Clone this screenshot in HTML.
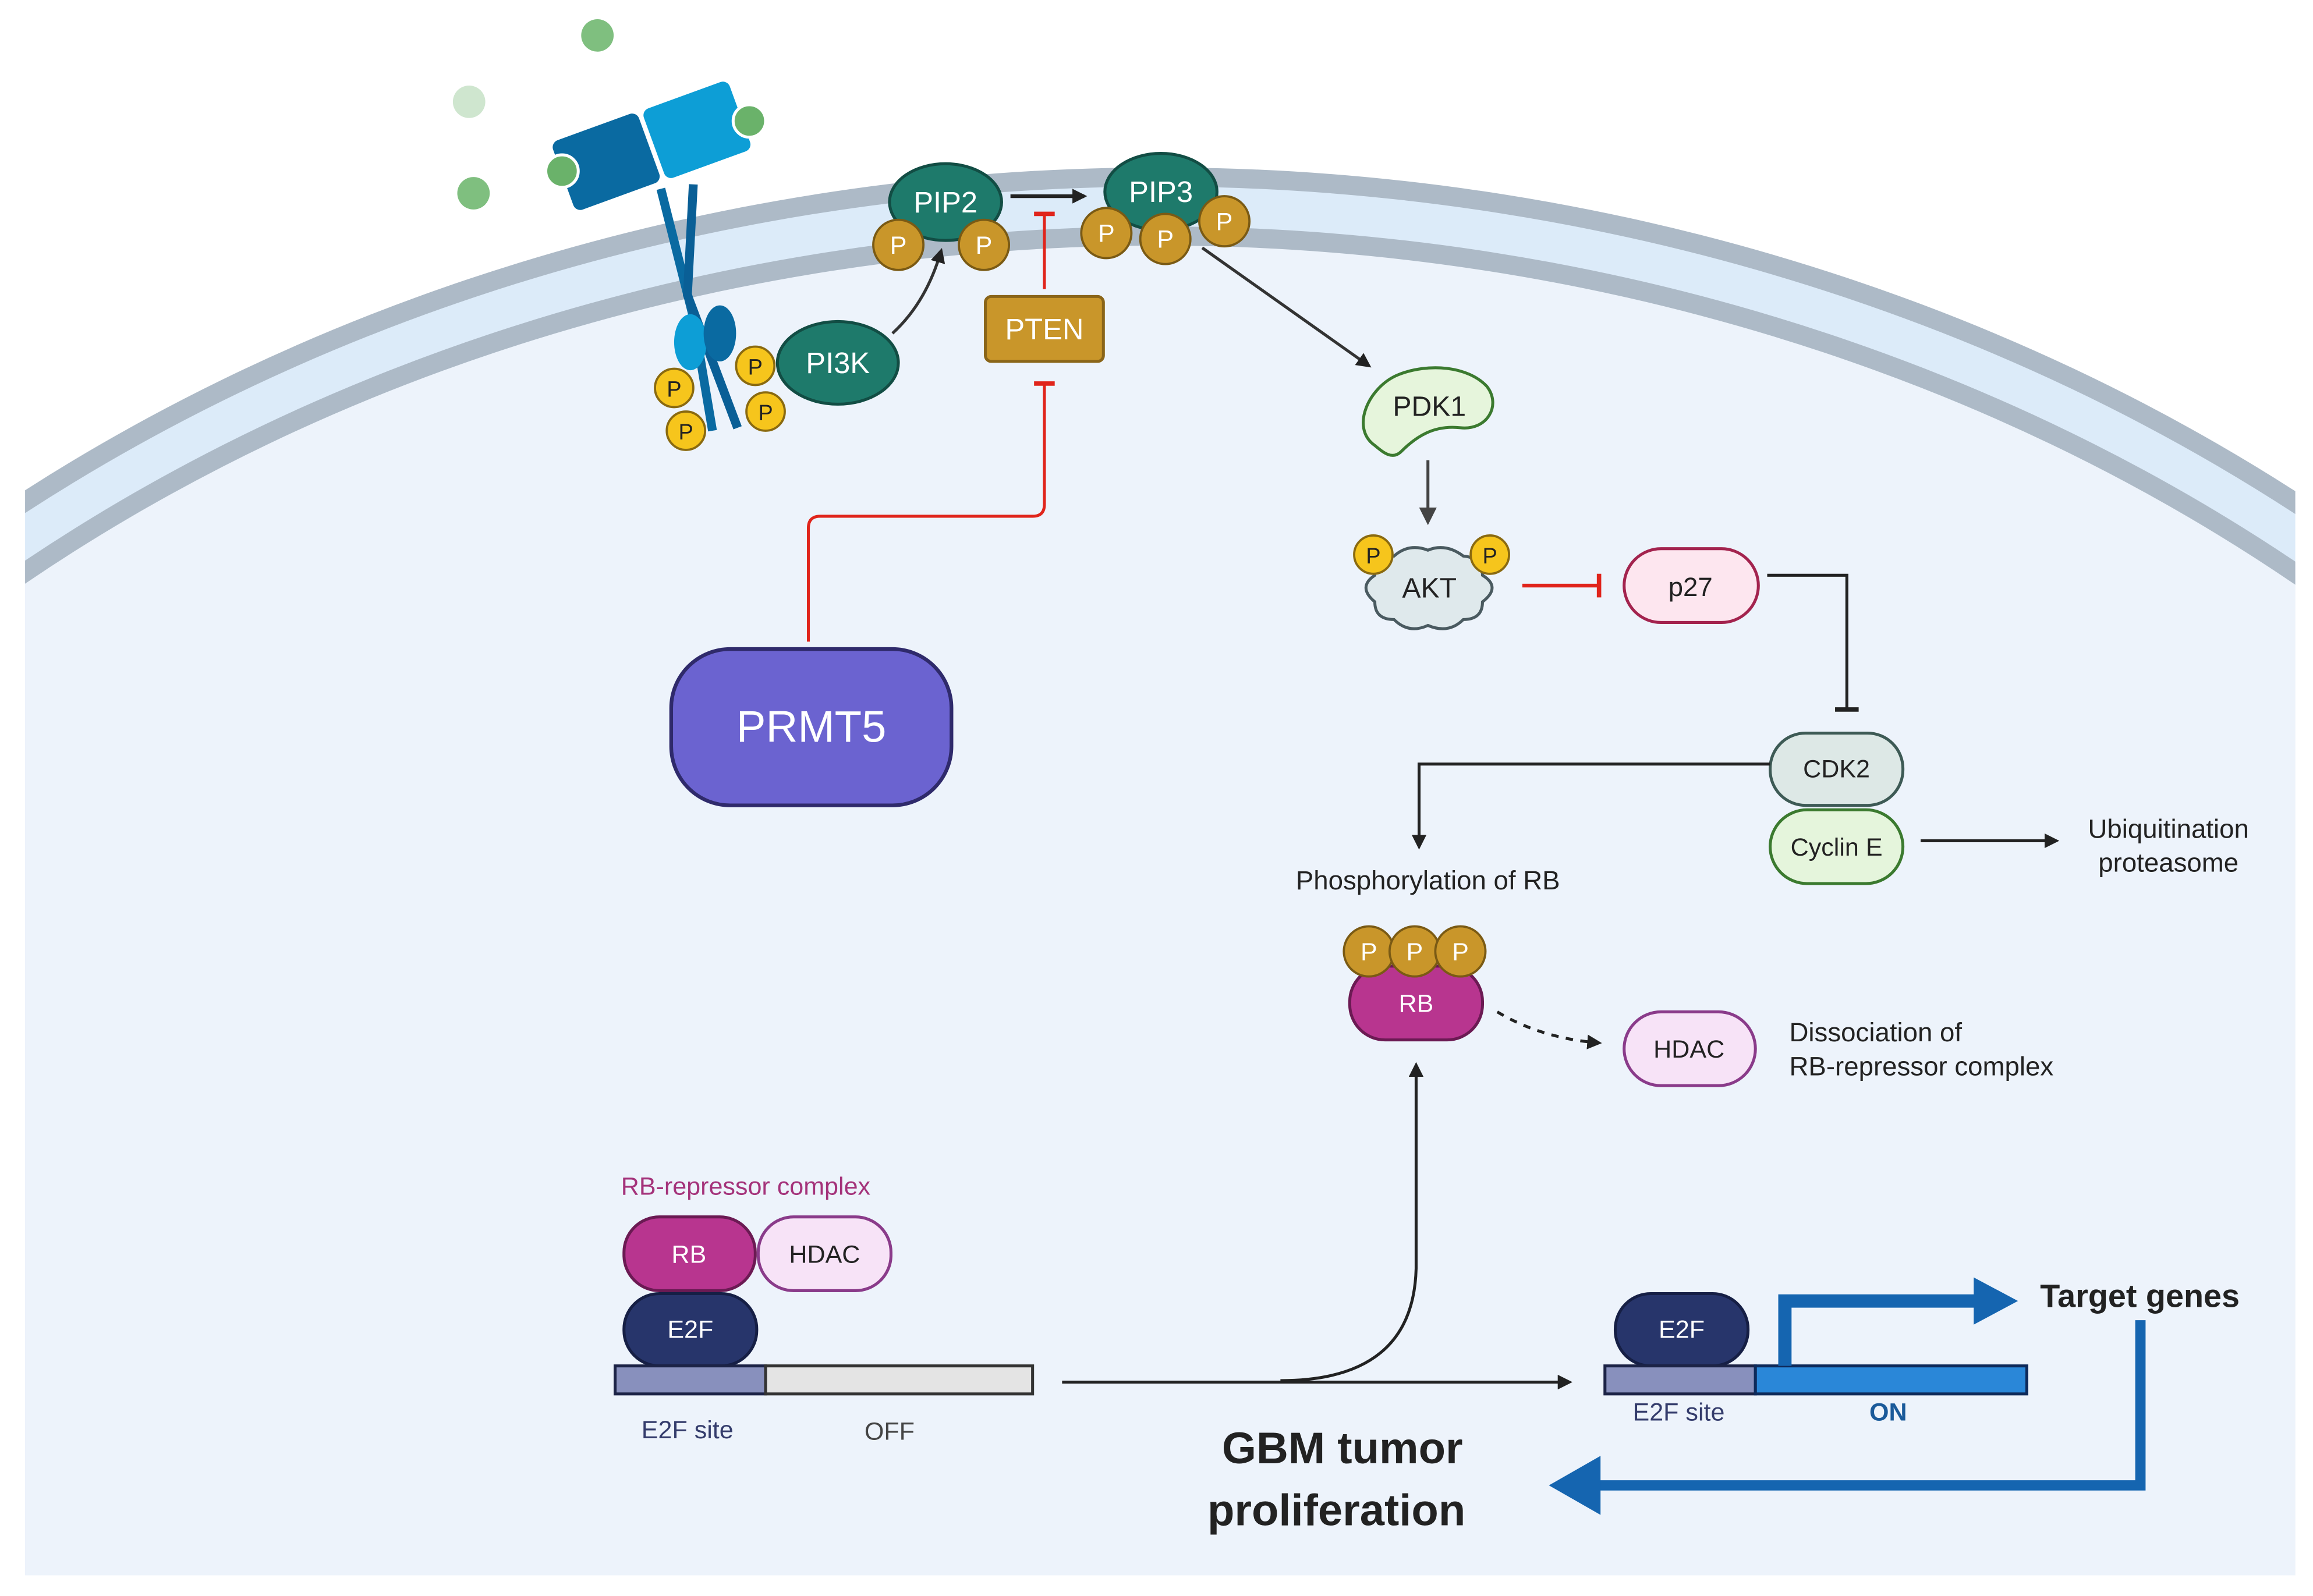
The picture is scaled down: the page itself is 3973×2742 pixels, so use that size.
<!DOCTYPE html>
<html><head><meta charset="utf-8"><style>
html,body{margin:0;padding:0;background:#fff;width:3973px;height:2742px;overflow:hidden}
svg{display:block}
text{font-family:"Liberation Sans",sans-serif}
</style></head><body>
<svg width="3973" height="2742" viewBox="0 0 1568 1082" preserveAspectRatio="none" xmlns="http://www.w3.org/2000/svg">
<defs>
<clipPath id="c"><rect x="17" y="0" width="1539" height="1068"/></clipPath>
<marker id="ab" markerWidth="10" markerHeight="10" refX="8" refY="5" orient="auto" markerUnits="userSpaceOnUse"><path d="M0,0 L10,5 L0,10z" fill="#222"/></marker>
<marker id="ag" markerWidth="12" markerHeight="12" refX="10" refY="6" orient="auto" markerUnits="userSpaceOnUse"><path d="M0,0 L12,6 L0,12z" fill="#444"/></marker>
</defs>
<rect width="1568" height="1082" fill="#fff"/>
<g clip-path="url(#c)">
<ellipse cx="786" cy="1200" rx="1271" ry="1080" fill="#dcebf9" stroke="#adbac7" stroke-width="13"/>
<ellipse cx="786" cy="1200" rx="1231" ry="1040" fill="#edf3fb" stroke="#adbac7" stroke-width="13"/>
</g>
<circle cx="405" cy="24" r="11" fill="#7fbf7f"/>
<circle cx="318" cy="69" r="11" fill="#cfe6cf"/>
<circle cx="321" cy="131" r="11" fill="#7fbf7f"/>
<path d="M448,128 L470,215 L483,292" fill="none" stroke="#0a6aa1" stroke-width="6"/>
<path d="M470,125 L466,200 L500,290" fill="none" stroke="#0a5f96" stroke-width="6"/>
<g transform="rotate(-20 410 110)"><rect x="380" y="85" width="62" height="50" rx="5" fill="#0a6aa1"/></g>
<g transform="rotate(-20 470 90)"><rect x="442" y="64" width="62" height="50" rx="5" fill="#0d9ed6"/></g>
<circle cx="381" cy="116" r="11" fill="#6ab26a" stroke="#fff" stroke-width="2"/>
<circle cx="508" cy="82" r="11" fill="#6ab26a" stroke="#fff" stroke-width="2"/>
<ellipse cx="468" cy="232" rx="11" ry="19" fill="#0d9ed6"/>
<ellipse cx="488" cy="226" rx="11" ry="19" fill="#0a6aa1"/>
<g fill="#f6c51c" stroke="#8a6a10" stroke-width="1.5">
<circle cx="457" cy="263" r="13"/><circle cx="465" cy="292" r="13"/><circle cx="512" cy="248" r="13"/><circle cx="519" cy="279" r="13"/></g>
<g font-size="15" text-anchor="middle" fill="#222"><text x="457" y="269">P</text><text x="465" y="298">P</text><text x="512" y="254">P</text><text x="519" y="285">P</text></g>
<ellipse cx="568" cy="246" rx="41" ry="28" fill="#1e7a6b" stroke="#124d44" stroke-width="2"/>
<text x="568" y="253" font-size="20" fill="#fff" text-anchor="middle">PI3K</text>
<path d="M605,226 Q628,205 638,170" fill="none" stroke="#333" stroke-width="2" marker-end="url(#ab)"/>
<ellipse cx="641" cy="137" rx="38" ry="26" fill="#1e7a6b" stroke="#124d44" stroke-width="2"/>
<text x="641" y="144" font-size="20" fill="#fff" text-anchor="middle">PIP2</text>
<g fill="#c9962a" stroke="#7a5a14" stroke-width="1.5"><circle cx="609" cy="166" r="17"/><circle cx="667" cy="166" r="17"/></g>
<g font-size="17" fill="#fff" text-anchor="middle"><text x="609" y="172">P</text><text x="667" y="172">P</text></g>
<line x1="685" y1="133" x2="735" y2="133" stroke="#222" stroke-width="2.5" marker-end="url(#ab)"/>
<ellipse cx="787" cy="130" rx="38" ry="26" fill="#1e7a6b" stroke="#124d44" stroke-width="2"/>
<text x="787" y="137" font-size="20" fill="#fff" text-anchor="middle">PIP3</text>
<g fill="#c9962a" stroke="#7a5a14" stroke-width="1.5"><circle cx="750" cy="158" r="17"/><circle cx="790" cy="162" r="17"/><circle cx="830" cy="150" r="17"/></g>
<g font-size="17" fill="#fff" text-anchor="middle"><text x="750" y="164">P</text><text x="790" y="168">P</text><text x="830" y="156">P</text></g>
<line x1="708" y1="196" x2="708" y2="145" stroke="#e0241b" stroke-width="2"/>
<line x1="701" y1="145" x2="715" y2="145" stroke="#e0241b" stroke-width="3"/>
<rect x="668" y="201" width="80" height="44" rx="4" fill="#c9962a" stroke="#8a6519" stroke-width="2"/>
<text x="708" y="230" font-size="20" fill="#fff" text-anchor="middle">PTEN</text>
<path d="M548,435 L548,358 Q548,350 556,350 L700,350 Q708,350 708,342 L708,260" fill="none" stroke="#e0241b" stroke-width="2"/>
<line x1="701" y1="260" x2="715" y2="260" stroke="#e0241b" stroke-width="3"/>
<rect x="455" y="440" width="190" height="106" rx="40" fill="#6b63d0" stroke="#2f2a6b" stroke-width="2.5"/>
<text x="550" y="503" font-size="30" fill="#fff" text-anchor="middle">PRMT5</text>
<line x1="815" y1="168" x2="928" y2="248" stroke="#333" stroke-width="2" marker-end="url(#ab)"/>
<path d="M932,302 C915,290 928,262 948,254 C968,246 995,248 1008,262 C1018,275 1008,292 990,290 C972,288 960,296 950,306 C944,312 938,307 932,302z" fill="#e6f5dc" stroke="#3b7a2f" stroke-width="2"/>
<text x="969" y="282" font-size="19" fill="#222" text-anchor="middle">PDK1</text>
<line x1="968" y1="312" x2="968" y2="354" stroke="#444" stroke-width="2" marker-end="url(#ag)"/>
<path d="M945,377 Q955,368 968,373 Q980,368 992,377 Q1005,378 1005,390 Q1018,398 1005,408 Q1005,420 992,420 Q982,430 968,424 Q955,430 945,420 Q932,420 932,408 Q920,398 932,390 Q932,378 945,377z" fill="#dfe9ec" stroke="#4a5a60" stroke-width="2"/>
<text x="969" y="405" font-size="19" fill="#222" text-anchor="middle">AKT</text>
<g fill="#f6c51c" stroke="#8a6a10" stroke-width="1.5"><circle cx="931" cy="376" r="13"/><circle cx="1010" cy="376" r="13"/></g>
<g font-size="15" fill="#222" text-anchor="middle"><text x="931" y="382">P</text><text x="1010" y="382">P</text></g>
<line x1="1032" y1="397" x2="1084" y2="397" stroke="#e0241b" stroke-width="2.5"/>
<line x1="1084" y1="389" x2="1084" y2="405" stroke="#e0241b" stroke-width="3"/>
<rect x="1101" y="372" width="91" height="50" rx="25" fill="#fde6ef" stroke="#a3234e" stroke-width="2"/>
<text x="1146" y="404" font-size="18" fill="#222" text-anchor="middle">p27</text>
<path d="M1198,390 L1252,390 L1252,480" fill="none" stroke="#222" stroke-width="2"/>
<line x1="1244" y1="481" x2="1260" y2="481" stroke="#222" stroke-width="3"/>
<rect x="1200" y="497" width="90" height="49" rx="24" fill="#dde8e6" stroke="#3d5a55" stroke-width="2"/>
<text x="1245" y="527" font-size="17" fill="#222" text-anchor="middle">CDK2</text>
<rect x="1200" y="549" width="90" height="50" rx="25" fill="#e5f5dc" stroke="#3b7a2f" stroke-width="2"/>
<text x="1245" y="580" font-size="17" fill="#222" text-anchor="middle">Cyclin E</text>
<path d="M1200,518 L962,518 L962,574" fill="none" stroke="#222" stroke-width="2" marker-end="url(#ab)"/>
<text x="968" y="603" font-size="18" fill="#222" text-anchor="middle">Phosphorylation of RB</text>
<line x1="1302" y1="570" x2="1394" y2="570" stroke="#222" stroke-width="2" marker-end="url(#ab)"/>
<text x="1470" y="568" font-size="18" fill="#222" text-anchor="middle">Ubiquitination</text>
<text x="1470" y="591" font-size="18" fill="#222" text-anchor="middle">proteasome</text>
<rect x="915" y="655" width="90" height="50" rx="24" fill="#b8358f" stroke="#6b1a53" stroke-width="2"/>
<text x="960" y="686" font-size="17" fill="#fff" text-anchor="middle">RB</text>
<g fill="#c9962a" stroke="#7a5a14" stroke-width="1.5"><circle cx="928" cy="645" r="17"/><circle cx="959" cy="645" r="17"/><circle cx="990" cy="645" r="17"/></g>
<g font-size="17" fill="#fff" text-anchor="middle"><text x="928" y="651">P</text><text x="959" y="651">P</text><text x="990" y="651">P</text></g>
<path d="M1015,686 Q1045,704 1084,707" fill="none" stroke="#222" stroke-width="2" stroke-dasharray="5,5" marker-end="url(#ab)"/>
<rect x="1101" y="686" width="89" height="50" rx="25" fill="#f7e3f7" stroke="#8a3b8a" stroke-width="2"/>
<text x="1145" y="717" font-size="17" fill="#222" text-anchor="middle">HDAC</text>
<text x="1213" y="706" font-size="18" fill="#222">Dissociation of</text>
<text x="1213" y="729" font-size="18" fill="#222">RB-repressor complex</text>
<path d="M868,936 Q958,936 960,860 L960,722" fill="none" stroke="#222" stroke-width="2" marker-end="url(#ab)"/>
<text x="421" y="810" font-size="17" fill="#a4327a">RB-repressor complex</text>
<rect x="423" y="825" width="89" height="50" rx="24" fill="#b8358f" stroke="#6b1a53" stroke-width="2"/>
<text x="467" y="856" font-size="17" fill="#fff" text-anchor="middle">RB</text>
<rect x="514" y="825" width="90" height="50" rx="24" fill="#f7e3f7" stroke="#8a3b8a" stroke-width="2"/>
<text x="559" y="856" font-size="17" fill="#222" text-anchor="middle">HDAC</text>
<rect x="423" y="877" width="90" height="49" rx="24" fill="#27356b" stroke="#161f45" stroke-width="2"/>
<text x="468" y="907" font-size="17" fill="#fff" text-anchor="middle">E2F</text>
<rect x="417" y="926" width="102" height="19" fill="#8890bd" stroke="#1c2346" stroke-width="2"/>
<rect x="519" y="926" width="181" height="19" fill="#e4e4e4" stroke="#333" stroke-width="2"/>
<text x="466" y="975" font-size="17" fill="#343c6c" text-anchor="middle">E2F site</text>
<text x="603" y="976" font-size="17" fill="#444" text-anchor="middle">OFF</text>
<line x1="720" y1="937" x2="1064" y2="937" stroke="#222" stroke-width="2" marker-end="url(#ab)"/>
<rect x="1095" y="877" width="90" height="49" rx="24" fill="#27356b" stroke="#161f45" stroke-width="2"/>
<text x="1140" y="907" font-size="17" fill="#fff" text-anchor="middle">E2F</text>
<rect x="1088" y="926" width="102" height="19" fill="#8890bd" stroke="#1c2346" stroke-width="2"/>
<rect x="1190" y="926" width="184" height="19" fill="#2a87d8" stroke="#0e2a5a" stroke-width="2"/>
<text x="1138" y="963" font-size="17" fill="#343c6c" text-anchor="middle">E2F site</text>
<text x="1280" y="963" font-size="17" fill="#1a5a9a" font-weight="bold" text-anchor="middle">ON</text>
<path d="M1210,926 L1210,882 L1340,882" fill="none" stroke="#1565b0" stroke-width="9"/>
<path d="M1338,866 L1368,882 L1338,898z" fill="#1565b0"/>
<text x="1383" y="886" font-size="22" font-weight="bold" fill="#222">Target genes</text>
<path d="M1451,895 L1451,1007 L1080,1007" fill="none" stroke="#1565b0" stroke-width="7"/>
<path d="M1085,987 L1050,1007 L1085,1027z" fill="#1565b0"/>
<text x="910" y="992" font-size="30" font-weight="bold" fill="#222" text-anchor="middle">GBM tumor</text>
<text x="906" y="1034" font-size="30" font-weight="bold" fill="#222" text-anchor="middle">proliferation</text>
</svg>
</body></html>
